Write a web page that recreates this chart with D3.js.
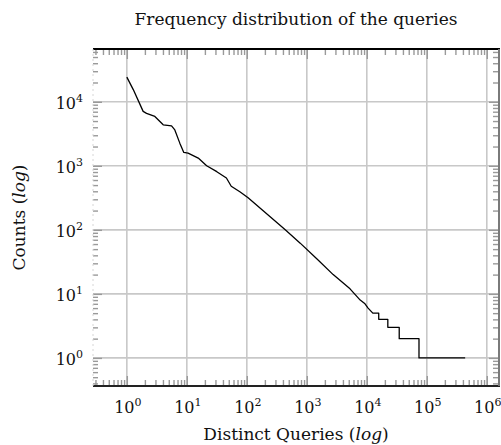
<!DOCTYPE html>
<html>
<head>
<meta charset="utf-8">
<script src="https://cdn.jsdelivr.net/npm/d3@7/dist/d3.min.js"></script>
<style>
  html, body { margin: 0; padding: 0; background: #fff; }
  svg { display: block; }
  text { font-family: "DejaVu Serif", "Liberation Serif", serif; fill: #111; }
</style>
</head>
<body>
<svg id="chart" width="501" height="445"></svg>
<script>
// Rank (distinct query index) and number of occurrences
const ranks  = [1, 1.28, 1.87, 2.13, 2.93, 4.04, 5.56, 6.31, 7.64, 8.9, 10.5, 15.5, 21.4, 31.6, 45.7, 55, 77.6, 105,
                437, 776, 1480, 2750, 5250, 7760, 9330, 10500, 12600, 15800, 15800, 22400, 22400, 34700, 34700, 74100, 74100, 436000];
const counts = [24300, 15500, 7080, 6600, 5900, 4370, 4200, 3630, 2260, 1620, 1580, 1320, 1000, 810, 645, 480, 390, 316,
                100, 62, 35, 20, 12, 8, 7, 6, 5, 5, 4, 4, 3, 3, 2, 2, 1, 1];

const xTickExps = [0, 1, 2, 3, 4, 5, 6];
const yTickExps = [0, 1, 2, 3, 4];

const title  = "Frequency distribution of the queries";
const xLabel = ["Distinct Queries (", "log", ")"];
const yLabel = ["Counts (", "log", ")"];

const svg = d3.select("#chart");
const pLeft = 93, pRight = 499, pTop = 49, pBottom = 386;

// log axes with 10% padding of the data span on each end
const xExt = d3.extent(ranks).map(Math.log10);
const yExt = d3.extent(counts).map(Math.log10);
const xPad = (xExt[1] - xExt[0]) * 0.1, yPad = (yExt[1] - yExt[0]) * 0.1;
const x = d3.scaleLog().domain([10 ** (xExt[0] - xPad), 10 ** (xExt[1] + xPad)]).range([pLeft, pRight]);
const y = d3.scaleLog().domain([10 ** (yExt[0] - yPad), 10 ** (yExt[1] + yPad)]).range([pBottom, pTop]);

// minor tick values (2..9 per decade) inside the domain
function minors(scale) {
  const [a, b] = scale.domain();
  const out = [];
  for (let e = Math.floor(Math.log10(a)); e <= Math.ceil(Math.log10(b)); e++) {
    for (let m = 2; m <= 9; m++) {
      const v = m * 10 ** e;
      if (v > a && v < b) out.push(v);
    }
  }
  return out;
}
const xMajor = xTickExps.map(e => 10 ** e);
const yMajor = yTickExps.map(e => 10 ** e);

// grid
const grid = svg.append("g").attr("stroke", "#c8c8c8").attr("stroke-width", 1.6);
grid.selectAll(".gx").data(xMajor).join("line")
  .attr("x1", d => x(d)).attr("x2", d => x(d)).attr("y1", pTop).attr("y2", pBottom);
grid.selectAll(".gy").data(yMajor).join("line")
  .attr("y1", d => y(d)).attr("y2", d => y(d)).attr("x1", pLeft).attr("x2", pRight);

// inward ticks on all four sides via d3 axes
const tickG = svg.append("g");
function addAxis(gen, tx, ty) {
  const g = tickG.append("g").attr("transform", `translate(${tx},${ty})`).call(gen);
  g.select(".domain").remove();
  g.selectAll("text").remove();
  g.selectAll("line").attr("stroke", "#9a9a9a").attr("stroke-width", 1.4);
  return g;
}
addAxis(d3.axisBottom(x).tickValues(minors(x)).tickSize(-6), 0, pBottom);
addAxis(d3.axisBottom(x).tickValues(xMajor).tickSize(-10), 0, pBottom);
addAxis(d3.axisTop(x).tickValues(minors(x)).tickSize(-6), 0, pTop);
addAxis(d3.axisTop(x).tickValues(xMajor).tickSize(-10), 0, pTop);
addAxis(d3.axisLeft(y).tickValues(minors(y)).tickSize(-5), pLeft, 0);
addAxis(d3.axisLeft(y).tickValues(yMajor).tickSize(-9), pLeft, 0);
addAxis(d3.axisRight(y).tickValues(minors(y)).tickSize(-6), pRight, 0);
addAxis(d3.axisRight(y).tickValues(yMajor).tickSize(-10), pRight, 0);

// frame
svg.append("line").attr("x1", pLeft).attr("x2", pRight + 1).attr("y1", pTop).attr("y2", pTop)
  .attr("stroke", "#000").attr("stroke-width", 2.2);
svg.append("line").attr("x1", pLeft).attr("x2", pRight + 1).attr("y1", pBottom).attr("y2", pBottom)
  .attr("stroke", "#222").attr("stroke-width", 2.2);
svg.append("line").attr("x1", pRight).attr("x2", pRight).attr("y1", pTop).attr("y2", pBottom)
  .attr("stroke", "#7a7a7a").attr("stroke-width", 2);
svg.append("line").attr("x1", pLeft).attr("x2", pLeft).attr("y1", pTop).attr("y2", pBottom)
  .attr("stroke", "#d6d6d6").attr("stroke-width", 1).attr("stroke-dasharray", "2,3");

// data line
const line = d3.line().x((d, i) => x(ranks[i])).y((d, i) => y(counts[i]));
svg.append("path").datum(counts).attr("d", line)
  .attr("fill", "none").attr("stroke", "#000").attr("stroke-width", 1.3)
  .attr("stroke-linejoin", "round");

// tick labels (10^n)
function powLabel(g) {
  g.append("tspan").text("10").attr("font-size", 16);
  g.append("tspan").text(d => d).attr("font-size", 11).attr("dy", -7);
}
svg.append("g").selectAll("text").data(xTickExps).join("text")
  .attr("x", d => x(10 ** d) + 1).attr("y", 413).attr("text-anchor", "middle")
  .call(powLabel);
svg.append("g").selectAll("text").data(yTickExps).join("text")
  .attr("x", 83).attr("y", d => y(10 ** d) + 7).attr("text-anchor", "end")
  .call(powLabel);

// title and axis titles
svg.append("text").attr("x", (pLeft + pRight) / 2).attr("y", 25).attr("text-anchor", "middle")
  .attr("font-size", 17).text(title);

const xl = svg.append("text").attr("x", (pLeft + pRight) / 2).attr("y", 440)
  .attr("text-anchor", "middle").attr("font-size", 17);
xl.selectAll("tspan").data(xLabel).join("tspan").text(d => d)
  .attr("font-style", (d, i) => i === 1 ? "italic" : null);

const yl = svg.append("text").attr("transform", `translate(25,${(pTop + pBottom) / 2}) rotate(-90)`)
  .attr("text-anchor", "middle").attr("font-size", 17);
yl.selectAll("tspan").data(yLabel).join("tspan").text(d => d)
  .attr("font-style", (d, i) => i === 1 ? "italic" : null);
</script>
</body>
</html>
